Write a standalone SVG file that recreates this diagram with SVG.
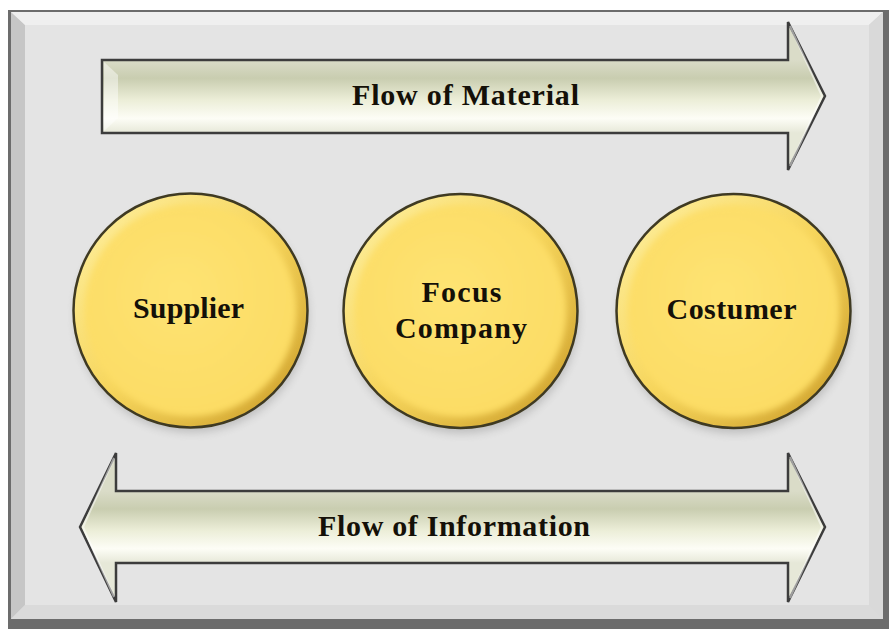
<svg xmlns="http://www.w3.org/2000/svg" width="889" height="629" viewBox="0 0 889 629">
  <defs>
    <style>
      .lbl { font-family: "Liberation Serif", "Times New Roman", serif; font-weight: bold; font-size: 30px; fill: #141008; text-anchor: middle; }
      .arrow { stroke: #3c3c3c; stroke-width: 2.5; stroke-linejoin: miter; }
      .rim { fill: none; stroke: #3f3a22; stroke-width: 2.5; }
    </style>
    <!-- arrow body shading, top to bottom -->
    <linearGradient id="gTop" x1="0" y1="60" x2="0" y2="133" gradientUnits="userSpaceOnUse">
      <stop offset="0" stop-color="#dadcc8"/>
      <stop offset="0.25" stop-color="#c9cdb0"/>
      <stop offset="0.55" stop-color="#eceed8"/>
      <stop offset="0.8" stop-color="#fdfdf6"/>
      <stop offset="1" stop-color="#e6e8d8"/>
    </linearGradient>
    <linearGradient id="gBot" x1="0" y1="491" x2="0" y2="563" gradientUnits="userSpaceOnUse">
      <stop offset="0" stop-color="#dadcc8"/>
      <stop offset="0.25" stop-color="#c9cdb0"/>
      <stop offset="0.55" stop-color="#eceed8"/>
      <stop offset="0.8" stop-color="#fdfdf6"/>
      <stop offset="1" stop-color="#e6e8d8"/>
    </linearGradient>
    <!-- disc bevel -->
    <linearGradient id="gRing" x1="0" y1="0" x2="1" y2="1">
      <stop offset="0" stop-color="#fff2a6"/>
      <stop offset="0.5" stop-color="#f6d55c"/>
      <stop offset="1" stop-color="#c99a26"/>
    </linearGradient>
    <radialGradient id="gFace" cx="0.45" cy="0.42" r="0.6">
      <stop offset="0" stop-color="#fee373"/>
      <stop offset="1" stop-color="#fcdc64"/>
    </radialGradient>
    <filter id="soft" x="-10%" y="-10%" width="120%" height="120%">
      <feGaussianBlur stdDeviation="3"/>
    </filter>
    <filter id="shadow" x="-20%" y="-20%" width="140%" height="140%">
      <feGaussianBlur stdDeviation="5"/>
    </filter>
  </defs>

  <!-- beveled frame -->
  <g id="frame">
    <rect x="8" y="10" width="881" height="619" fill="#6c6c6c"/>
    <rect x="11" y="12" width="872" height="607" fill="#d6d6d6"/>
    <polygon points="11,12 25,25 25,605 11,619" fill="#c6c6c6"/>
    <polygon points="11,12 883,12 869,25 25,25" fill="#efefef"/>
    <polygon points="883,12 883,619 869,605 869,25" fill="#d9d9d9"/>
    <polygon points="11,619 883,619 869,605 25,605" fill="#dadada"/>
    <rect x="25" y="25" width="844" height="580" fill="#e4e4e4"/>
  </g>

  <!-- flow arrows -->
  <g id="connectors">
    <g id="flow-material">
      <path class="arrow" fill="url(#gTop)" d="M102,60 L788,60 L788,22 L825,96 L788,170 L788,133 L102,133 Z"/>
      <path d="M104,62 L118,75 L118,118 L104,131 Z" fill="#ffffff" opacity="0.45"/>
      <path d="M790,26 L822,96 L790,166" fill="none" stroke="#ffffff" stroke-width="2" opacity="0.5"/>
      <text class="lbl" x="465.5" y="105" textLength="227" lengthAdjust="spacing">Flow of Material</text>
    </g>
    <g id="flow-information">
      <path class="arrow" fill="url(#gBot)" d="M80,527 L116,453 L116,491 L788,491 L788,453 L825,527 L788,602 L788,563 L116,563 L116,602 Z"/>
      <path d="M114,458 L83,527 L114,597" fill="none" stroke="#ffffff" stroke-width="2" opacity="0.5"/>
      <path d="M790,457 L822,527 L790,598" fill="none" stroke="#ffffff" stroke-width="2" opacity="0.5"/>
      <text class="lbl" x="454" y="536" textLength="272" lengthAdjust="spacing">Flow of Information</text>
    </g>
  </g>

  <!-- partner discs -->
  <g id="supplier">
    <circle cx="192" cy="316" r="116" fill="#8a8a8a" opacity="0.45" filter="url(#shadow)"/>
    <circle cx="190.5" cy="310.5" r="117" fill="url(#gRing)"/>
    <circle cx="190.5" cy="310.5" r="106" fill="url(#gFace)" filter="url(#soft)"/>
    <circle class="rim" cx="190.5" cy="310.5" r="117"/>
    <text class="lbl" x="188.5" y="318" textLength="111" lengthAdjust="spacing">Supplier</text>
  </g>

  <g id="focus-company">
    <circle cx="462" cy="317" r="116" fill="#8a8a8a" opacity="0.45" filter="url(#shadow)"/>
    <circle cx="460.5" cy="311" r="117" fill="url(#gRing)"/>
    <circle cx="460.5" cy="311" r="106" fill="url(#gFace)" filter="url(#soft)"/>
    <circle class="rim" cx="460.5" cy="311" r="117"/>
    <text class="lbl" x="461.5" y="302" textLength="80" lengthAdjust="spacing">Focus</text>
    <text class="lbl" x="461" y="338" textLength="132" lengthAdjust="spacing">Company</text>
  </g>

  <g id="costumer">
    <circle cx="735" cy="317" r="116" fill="#8a8a8a" opacity="0.45" filter="url(#shadow)"/>
    <circle cx="733.5" cy="311" r="117" fill="url(#gRing)"/>
    <circle cx="733.5" cy="311" r="106" fill="url(#gFace)" filter="url(#soft)"/>
    <circle class="rim" cx="733.5" cy="311" r="117"/>
    <text class="lbl" x="731.5" y="319" textLength="130" lengthAdjust="spacing">Costumer</text>
  </g>
</svg>
